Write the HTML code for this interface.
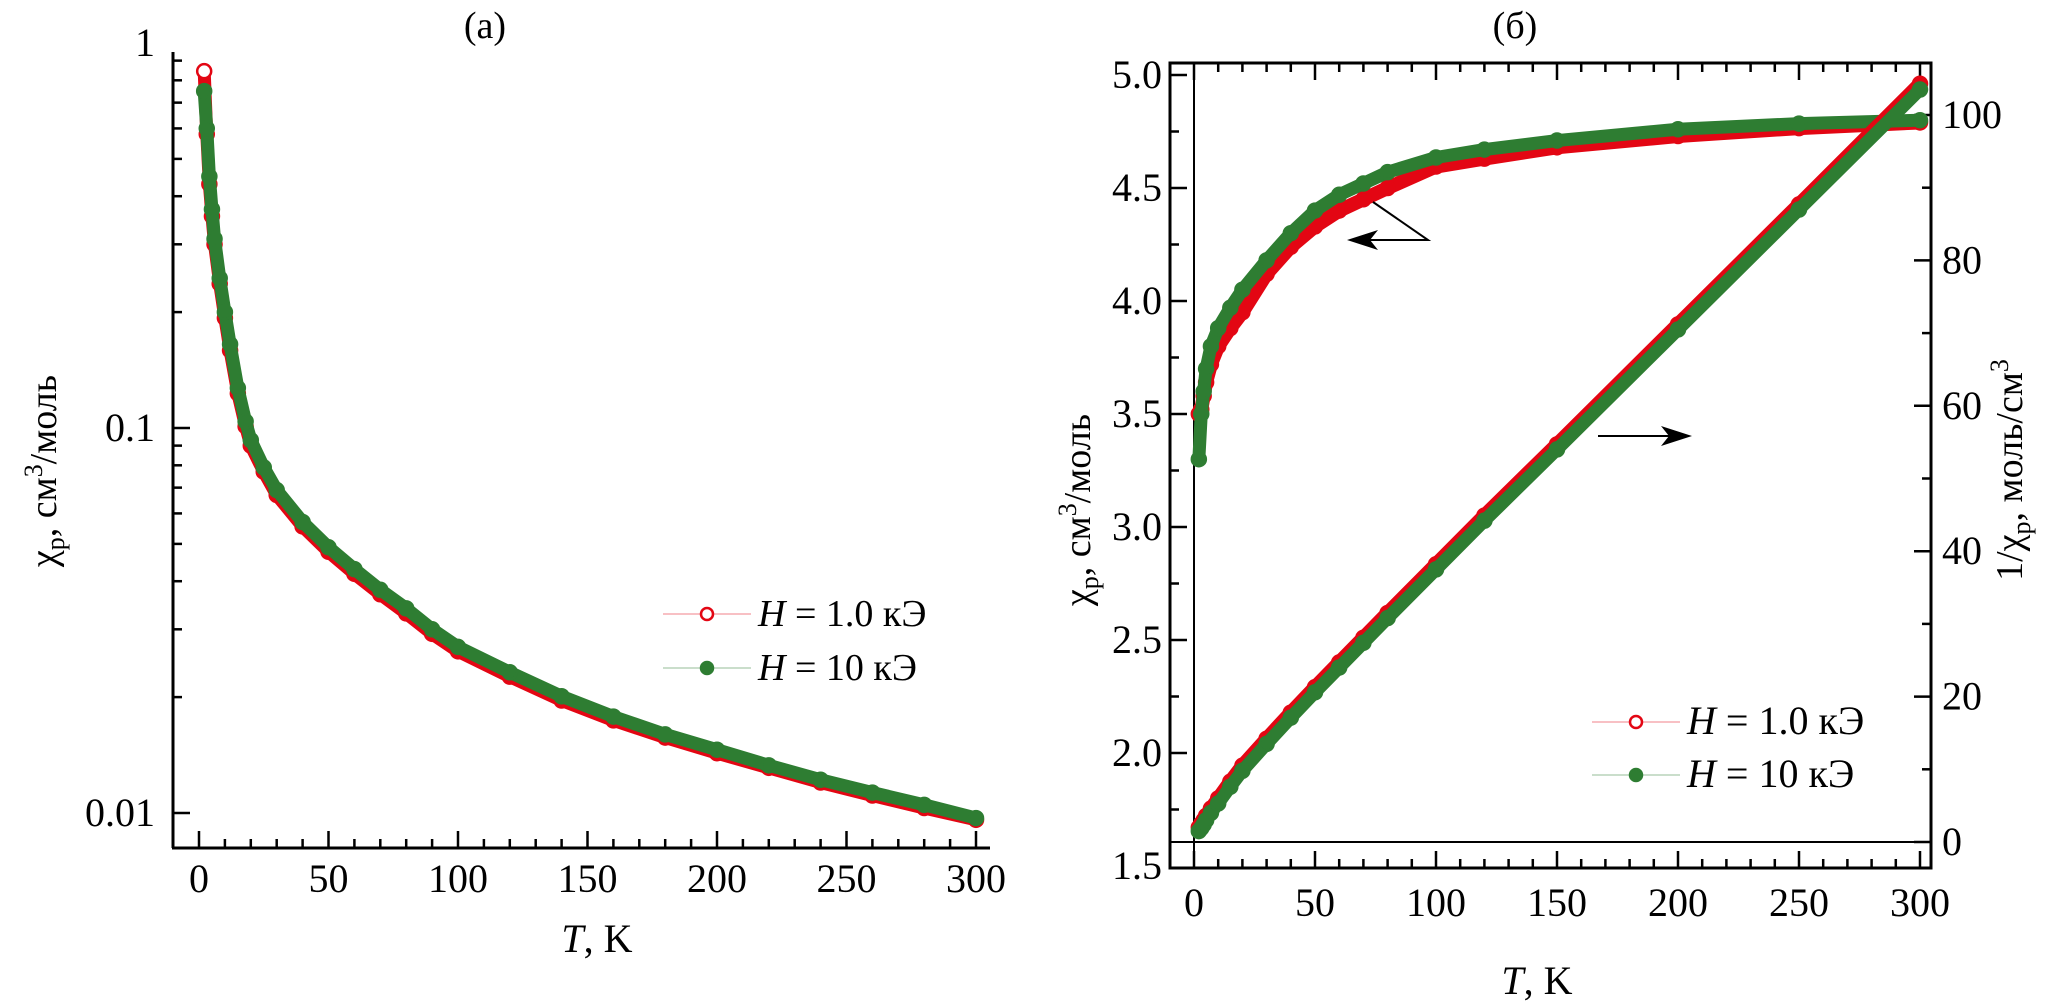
<!DOCTYPE html>
<html><head><meta charset="utf-8">
<style>
html,body{margin:0;padding:0;background:#fff;}
svg{display:block;font-family:"Liberation Serif","DejaVu Serif",serif;}
</style></head>
<body>
<svg id="fig" width="2053" height="1006" viewBox="0 0 2053 1006" xmlns="http://www.w3.org/2000/svg">
<g id="pa"></g>
<g id="pb"></g>
</svg>
<script>
// ---- Panel (a) data: chi_p (log scale) vs T ----
const tA = [2,3,4,5,6,8,10,12,15,18,20,25,30,40,50,60,70,80,90,100,120,140,160,180,200,220,240,260,280,300];
const chiA10 = [0.75,0.60,0.45,0.37,0.31,0.245,0.20,0.165,0.127,0.104,0.093,0.079,0.069,0.057,0.049,0.043,0.038,0.034,0.030,0.027,0.0232,0.0201,0.0178,0.0160,0.0146,0.0133,0.0122,0.0113,0.0105,0.0097];
const chiA1 = [0.845,0.58,0.43,0.355,0.30,0.237,0.193,0.159,0.123,0.101,0.090,0.077,0.067,0.0555,0.0477,0.0418,0.037,0.033,0.0292,0.0263,0.0226,0.0196,0.0174,0.0157,0.0143,0.0131,0.0120,0.0111,0.0103,0.0096];
const xTicksA = [0,50,100,150,200,250,300];
const yTicksA = [0.01,0.1,1];
const yTickLabelsA = ["0.01","0.1","1"];

// ---- Panel (б) data ----
const tB = [2,3,4,5,7,10,15,20,30,40,50,60,70,80,100,120,150,200,250,300];
const chiB10 = [3.3,3.5,3.6,3.7,3.8,3.88,3.97,4.05,4.18,4.30,4.40,4.47,4.52,4.57,4.635,4.67,4.71,4.76,4.785,4.80];
const chiB1 = [3.5,3.52,3.58,3.64,3.72,3.80,3.88,3.95,4.12,4.24,4.33,4.40,4.45,4.50,4.595,4.63,4.68,4.73,4.765,4.79];
const invB10 = [1.5,1.9,2.4,3.0,4.0,5.3,7.6,9.8,13.5,17.1,20.6,24.0,27.4,30.8,37.5,44.2,54.0,70.5,87.0,103.5];
const invB1 = [2.0,2.5,3.0,3.6,4.6,6.0,8.3,10.5,14.2,17.8,21.3,24.7,28.1,31.5,38.2,44.9,54.7,71.2,87.7,104.3];
const xTicksB = [0,50,100,150,200,250,300];
const yTicksB = [1.5,2.0,2.5,3.0,3.5,4.0,4.5,5.0];
const y2TicksB = [0,20,40,60,80,100];

const NS="http://www.w3.org/2000/svg";
function mk(parent,tag,attrs,text){const e=document.createElementNS(NS,tag);for(const k in attrs)e.setAttribute(k,attrs[k]);if(text!==undefined)e.textContent=text;parent.appendChild(e);return e;}

// ---------- Panel A ----------
const A=document.getElementById('pa');
const axA={x0:173,y0:848,yTop:52,xEnd:990};
const xA=t=>199+t*2.59;
const yA=v=>428-385*Math.log10(v/0.1);

let e=mk(A,'line',{x1:axA.x0,y1:axA.yTop,x2:axA.x0,y2:axA.y0,stroke:'#000','stroke-width':3});

e=mk(A,'line',{x1:axA.x0-1,y1:axA.y0,x2:axA.xEnd,y2:axA.y0,stroke:'#000','stroke-width':3});

for(let t=0;t<=300;t+=10){const maj=t%50===0;e=mk(A,'line',{x1:xA(t),y1:axA.y0,x2:xA(t),y2:axA.y0-(maj?17:9),stroke:'#000','stroke-width':2.5});
}
xTicksA.forEach(t=>{e=mk(A,'text',{x:xA(t),y:892,'font-size':40,'text-anchor':'middle'},String(t));
});
for(let d=0.01;d<1;d*=10){for(let m=1;m<10;m++){const v=d*m;const y=yA(v);if(y<axA.yTop||y>axA.y0)continue;
e=mk(A,'line',{x1:axA.x0,y1:y,x2:axA.x0+(m===1?17:9),y2:y,stroke:'#000','stroke-width':2.5});
}}
yTicksA.forEach((v,i)=>{e=mk(A,'text',{x:155,y:yA(v)+13,'font-size':40,'text-anchor':'end'},yTickLabelsA[i]);
});

function series(G,ts,vs,fx,fy,col,name,w,firstOpen){
  const pts=ts.map((t,i)=>fx(t)+','+fy(vs[i])).join(' ');
  let p=mk(G,'polyline',{points:pts,fill:'none',stroke:col,'stroke-width':w,'stroke-linecap':'round','stroke-linejoin':'round'});
  
  ts.forEach((t,i)=>{const open=firstOpen&&i===0;const c=mk(G,'circle',{cx:fx(t),cy:fy(vs[i]),r:7,fill:open?'#fff':col,stroke:col,'stroke-width':2.5});
  });
}
series(A,tA,chiA1,xA,yA,'#e30613','series-1kOe-a',13,true);
series(A,tA,chiA10,xA,yA,'#2e7d32','series-10kOe-a',13,false);

function legend(G,x,y,col,open,label,name,fs){
  let l=mk(G,'line',{x1:x,y1:y,x2:x+88,y2:y,stroke:col,'stroke-width':1,opacity:0.5});
  
  let c=mk(G,'circle',{cx:x+44,cy:y,r:6,fill:open?'#fff':col,stroke:col,'stroke-width':2.5});
  
  let t=mk(G,'text',{x:x+95,y:y+12,'font-size':fs});
  
  mk(t,'tspan',{'font-style':'italic'},'H');mk(t,'tspan',{},' = '+label);
}
legend(A,663,614,'#e30613',true,'1.0 кЭ','legend-entry-1kOe-a',38);
legend(A,663,668,'#2e7d32',false,'10 кЭ','legend-entry-10kOe-a',38);

e=mk(A,'text',{x:485,y:38,'font-size':38,'text-anchor':'middle'},'(a)');

e=mk(A,'text',{x:597,y:952,'font-size':40,'text-anchor':'middle'});

mk(e,'tspan',{'font-style':'italic'},'T');mk(e,'tspan',{},', K');
e=mk(A,'text',{x:0,y:0,'font-size':38,'text-anchor':'middle',transform:'translate(56,471) rotate(-90)'});

mk(e,'tspan',{},'χ');mk(e,'tspan',{'font-size':26,dy:8},'p');mk(e,'tspan',{dy:-8},', см');mk(e,'tspan',{'font-size':26,dy:-14},'3');mk(e,'tspan',{dy:14},'/моль');

// ---------- Panel B ----------
const B=document.getElementById('pb');
const fr={l:1170,t:63,r:1931,b:868};
const xB=t=>1194+t*2.42;
const yB=v=>75+(5.0-v)*226;
const y2B=v=>842-v*7.27;
e=mk(B,'rect',{x:fr.l,y:fr.t,width:fr.r-fr.l,height:fr.b-fr.t,fill:'none',stroke:'#000','stroke-width':3});

e=mk(B,'line',{x1:xB(0),y1:fr.t,x2:xB(0),y2:fr.b,stroke:'#000','stroke-width':2});

e=mk(B,'line',{x1:fr.l,y1:y2B(0),x2:fr.r,y2:y2B(0),stroke:'#000','stroke-width':2});

for(let t=0;t<=300;t+=10){const maj=t%50===0;const L=maj?17:9;
e=mk(B,'line',{x1:xB(t),y1:fr.b,x2:xB(t),y2:fr.b-L,stroke:'#000','stroke-width':2.5});

e=mk(B,'line',{x1:xB(t),y1:fr.t,x2:xB(t),y2:fr.t+L,stroke:'#000','stroke-width':2.5});
}
xTicksB.forEach(t=>{e=mk(B,'text',{x:xB(t),y:916,'font-size':40,'text-anchor':'middle'},String(t));
});
for(let v=1.75;v<=5.0;v+=0.25){const maj=Math.abs(v*2-Math.round(v*2))<1e-6;
e=mk(B,'line',{x1:fr.l,y1:yB(v),x2:fr.l+(maj?17:9),y2:yB(v),stroke:'#000','stroke-width':2.5});
}
yTicksB.forEach(v=>{e=mk(B,'text',{x:1162,y:yB(v)+13,'font-size':40,'text-anchor':'end'},v.toFixed(1));
});
for(let v=0;v<=100;v+=10){const maj=v%20===0;
e=mk(B,'line',{x1:fr.r,y1:y2B(v),x2:fr.r-(maj?17:9),y2:y2B(v),stroke:'#000','stroke-width':2.5});
}
y2TicksB.forEach(v=>{e=mk(B,'text',{x:1942,y:y2B(v)+13,'font-size':40},String(v));
});

series(B,tB,chiB1,xB,yB,'#e30613','chi-1kOe-b',14,false);
series(B,tB,chiB10,xB,yB,'#2e7d32','chi-10kOe-b',13,false);
series(B,tB,invB1,xB,y2B,'#e30613','inverse-chi-1kOe-b',14,false);
series(B,tB,invB10,xB,y2B,'#2e7d32','inverse-chi-10kOe-b',13,false);

e=mk(B,'path',{d:'M1373,202 L1428,240 L1352,240',fill:'none',stroke:'#000','stroke-width':2});

e=mk(B,'path',{d:'M1347,240 L1378,230 L1370,240 L1378,250 Z',fill:'#000'});

e=mk(B,'line',{x1:1598,y1:436,x2:1680,y2:436,stroke:'#000','stroke-width':2});

e=mk(B,'path',{d:'M1692,436 L1661,426 L1669,436 L1661,446 Z',fill:'#000'});


legend(B,1592,722,'#e30613',true,'1.0 кЭ','legend-entry-1kOe-b',40);
legend(B,1592,775,'#2e7d32',false,'10 кЭ','legend-entry-10kOe-b',40);

e=mk(B,'text',{x:1515,y:38,'font-size':38,'text-anchor':'middle'},'(б)');

e=mk(B,'text',{x:1537,y:994,'font-size':40,'text-anchor':'middle'});

mk(e,'tspan',{'font-style':'italic'},'T');mk(e,'tspan',{},', K');
e=mk(B,'text',{x:0,y:0,'font-size':38,'text-anchor':'middle',transform:'translate(1090,510) rotate(-90)'});

mk(e,'tspan',{},'χ');mk(e,'tspan',{'font-size':26,dy:8},'p');mk(e,'tspan',{dy:-8},', см');mk(e,'tspan',{'font-size':26,dy:-14},'3');mk(e,'tspan',{dy:14},'/моль');
e=mk(B,'text',{x:0,y:0,'font-size':38,'text-anchor':'middle',transform:'translate(2022,470) rotate(-90)'});

mk(e,'tspan',{},'1/χ');mk(e,'tspan',{'font-size':26,dy:8},'p');mk(e,'tspan',{dy:-8},', моль/см');mk(e,'tspan',{'font-size':26,dy:-14},'3');
</script>
</body></html>
